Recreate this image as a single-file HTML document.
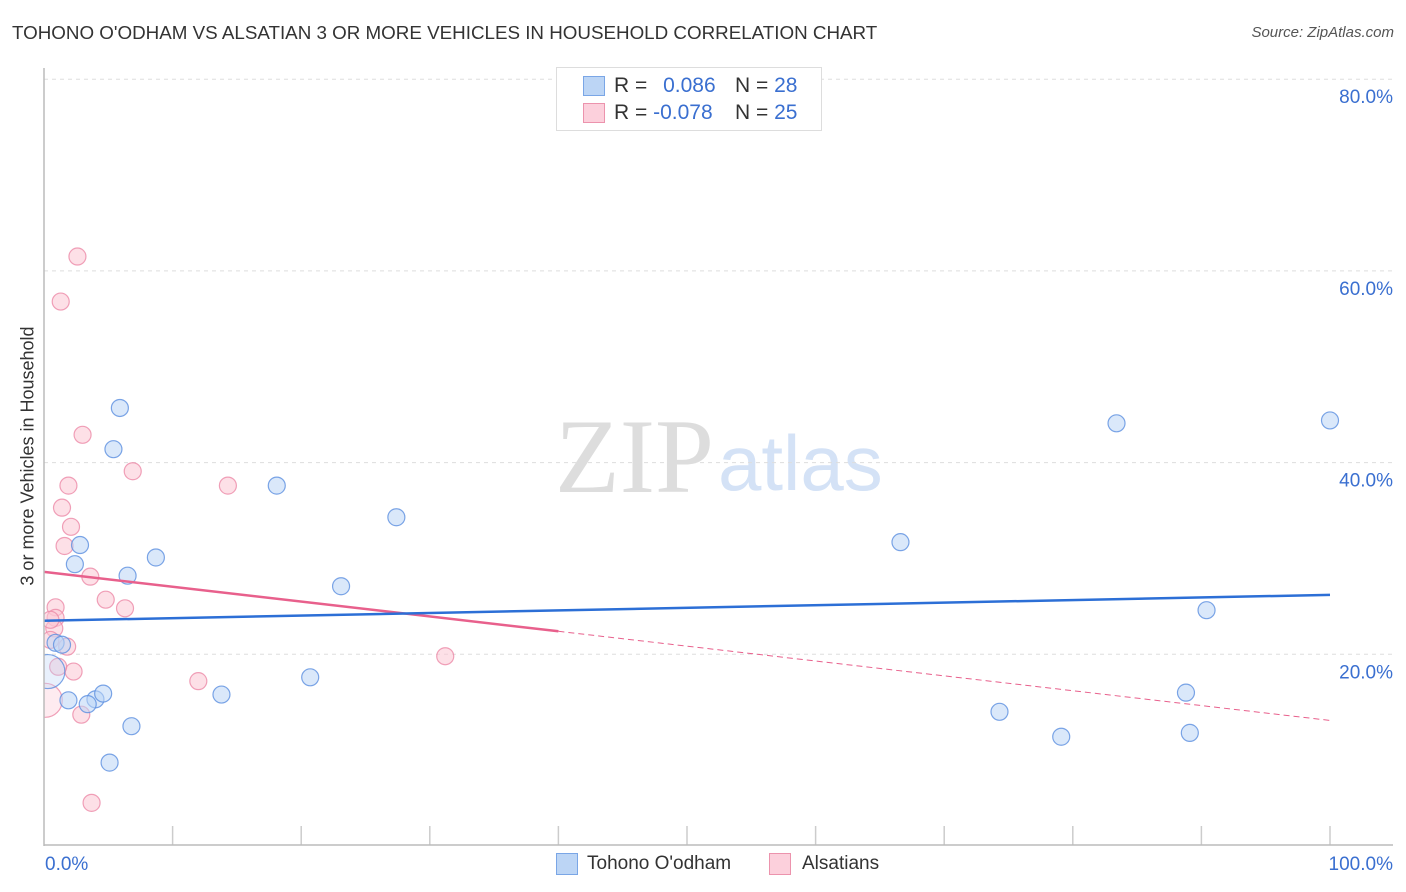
<!DOCTYPE html>
<html><head><meta charset="utf-8">
<style>
body{margin:0;background:#fff;font-family:"Liberation Sans",sans-serif;}
#wrap{position:relative;width:1406px;height:892px;overflow:hidden;}
.t{position:absolute;white-space:nowrap;}
</style></head><body>
<div id="wrap">
<div class="t" style="left:12px;top:22px;font-size:18.8px;color:#333;">TOHONO O'ODHAM VS ALSATIAN 3 OR MORE VEHICLES IN HOUSEHOLD CORRELATION CHART</div>
<div class="t" style="right:12px;top:24px;font-size:15px;color:#555;font-style:italic;">Source: ZipAtlas.com</div>
<div class="t" style="left:28px;top:456px;font-size:18px;color:#333;transform:translate(-50%,-50%) rotate(-90deg);">3 or more Vehicles in Household</div>
<svg id="svg" width="1406" height="892" style="position:absolute;left:0;top:0;">
<defs><clipPath id="pc"><rect x="44" y="60" width="1362" height="786"/></clipPath></defs>
<text x="555" y="492" font-family="Liberation Serif,serif" font-size="106" fill="#ddd">ZIP</text>
<text x="718" y="490" font-family="Liberation Sans,sans-serif" font-size="78" fill="#d4e2f6">atlas</text>
</svg>
<div style="position:absolute;left:556px;top:67px;width:264px;height:62px;border:1px solid #ddd;background:#fff;font-size:21px;">
 <div style="position:absolute;left:26px;top:8px;width:20px;height:18px;background:#bcd5f5;border:1px solid #7aa6e6;"></div>
 <div class="t" style="left:57px;top:6px;color:#333;">R = <span style="color:#3a6fd0;margin-left:10px;">0.086</span></div>
 <div class="t" style="left:178px;top:6px;color:#333;">N = <span style="color:#3a6fd0;">28</span></div>
 <div style="position:absolute;left:26px;top:35px;width:20px;height:18px;background:#fcd0dc;border:1px solid #ec93ad;"></div>
 <div class="t" style="left:57px;top:33px;color:#333;">R = <span style="color:#3a6fd0;">-0.078</span></div>
 <div class="t" style="left:178px;top:33px;color:#333;">N = <span style="color:#3a6fd0;">25</span></div>
</div>
<div>
 <div style="position:absolute;left:556px;top:853px;width:20px;height:20px;background:#bcd5f5;border:1px solid #7aa6e6;"></div>
 <div class="t" style="left:587px;top:853px;font-size:19px;color:#333;">Tohono O'odham</div>
 <div style="position:absolute;left:769px;top:853px;width:20px;height:20px;background:#fcd0dc;border:1px solid #ec93ad;"></div>
 <div class="t" style="left:802px;top:853px;font-size:19px;color:#333;">Alsatians</div>
</div>
</div>
<script>
const yTicks=[20,40,60,80];
const xTickLabels=["0.0%","100.0%"];
const blueX=[5.9,5.4,18.1,27.4,8.7,2.8,2.4,6.5,23.1,0.9,1.4,0.3,1.9,4.0,3.4,4.6,13.8,20.7,6.8,5.1,83.4,100,66.6,90.4,74.3,79.1,88.8,89.1];
const blueY=[45.7,41.4,37.6,34.3,30.1,31.4,29.4,28.2,27.1,21.2,21.0,18.2,15.2,15.3,14.8,15.9,15.8,17.6,12.5,8.7,44.1,44.4,31.7,24.6,14.0,11.4,16.0,11.8];
const pinkX=[2.6,1.3,3.0,6.9,14.3,1.9,1.4,2.1,1.6,3.6,4.8,6.3,0.9,0.9,0.8,1.8,0.5,2.3,1.1,0.1,2.9,12.0,31.2,3.7,0.5];
const pinkY=[61.5,56.8,42.9,39.1,37.6,37.6,35.3,33.3,31.3,28.1,25.7,24.8,24.9,23.8,22.7,20.8,21.5,18.2,18.7,15.2,13.7,17.2,19.8,4.5,23.6];
const blueTrend=[23.5,26.2];
const pinkTrend=[28.6,13.1];
const pinkSolidEnd=40;
const X0=44,X1=1330,Y0=846,PY=9.585;
const sx=v=>X0+(X1-X0)*v/100, sy=v=>Y0-v*PY;
const svg=document.getElementById('svg');
const NS='http://www.w3.org/2000/svg';
function mk(tag,attrs){const e=document.createElementNS(NS,tag);for(const k in attrs)e.setAttribute(k,attrs[k]);svg.appendChild(e);return e;}
for(const v of yTicks){
 const g=mk('line',{x1:44,x2:1393,y1:sy(v),y2:sy(v),stroke:'#ddd','stroke-dasharray':'4,4'});
 
 
 const t=mk('text',{x:1393,y:sy(v)+24,'text-anchor':'end','font-size':19,fill:'#3a6fd0','font-family':'Liberation Sans,sans-serif'});
 t.textContent=v.toFixed(1)+'%';
 
 
}
for(let i=1;i<=10;i++){
 const t=mk('line',{x1:sx(i*10),x2:sx(i*10),y1:826,y2:845,stroke:'#ccc','stroke-width':1.5});
 
 
}
let l=mk('text',{x:45,y:870,'font-size':19,fill:'#3a6fd0','font-family':'Liberation Sans,sans-serif'});l.textContent=xTickLabels[0];


l=mk('text',{x:1393,y:870,'text-anchor':'end','font-size':19,fill:'#3a6fd0','font-family':'Liberation Sans,sans-serif'});l.textContent=xTickLabels[1];


function pts(xs,ys,fill,stroke,name){
 xs.forEach((x,i)=>{
  const big=(x<0.5&&ys[i]<19&&ys[i]>14);
  const c=mk('circle',{cx:sx(x),cy:sy(ys[i]),r:big?17:8.5,fill:fill,'fill-opacity':big?0.35:0.55,stroke:stroke,'stroke-opacity':0.8,'stroke-width':1.2,'clip-path':'url(#pc)'});
  
  
 });
}
pts(pinkX,pinkY,'#fbc6d4','#ec8aa8','alsatians-point');
pts(blueX,blueY,'#bcd5f5','#5b8fe0','tohono-point');
const pm=pinkTrend[0]+(pinkTrend[1]-pinkTrend[0])*pinkSolidEnd/100;
let tr=mk('line',{x1:sx(0),y1:sy(pinkTrend[0]),x2:sx(pinkSolidEnd),y2:sy(pm),stroke:'#e8608c','stroke-width':2.5});


tr=mk('line',{x1:sx(pinkSolidEnd),y1:sy(pm),x2:sx(100),y2:sy(pinkTrend[1]),stroke:'#e8608c','stroke-width':1,'stroke-dasharray':'6,4'});


tr=mk('line',{x1:sx(0),y1:sy(blueTrend[0]),x2:sx(100),y2:sy(blueTrend[1]),stroke:'#2c6fd6','stroke-width':2.5});


let a=mk('line',{x1:44,x2:44,y1:68,y2:846,stroke:'#bbb','stroke-width':1.5});


a=mk('line',{x1:44,x2:1393,y1:845,y2:845,stroke:'#bbb','stroke-width':1.5});


</script>
</body></html>
